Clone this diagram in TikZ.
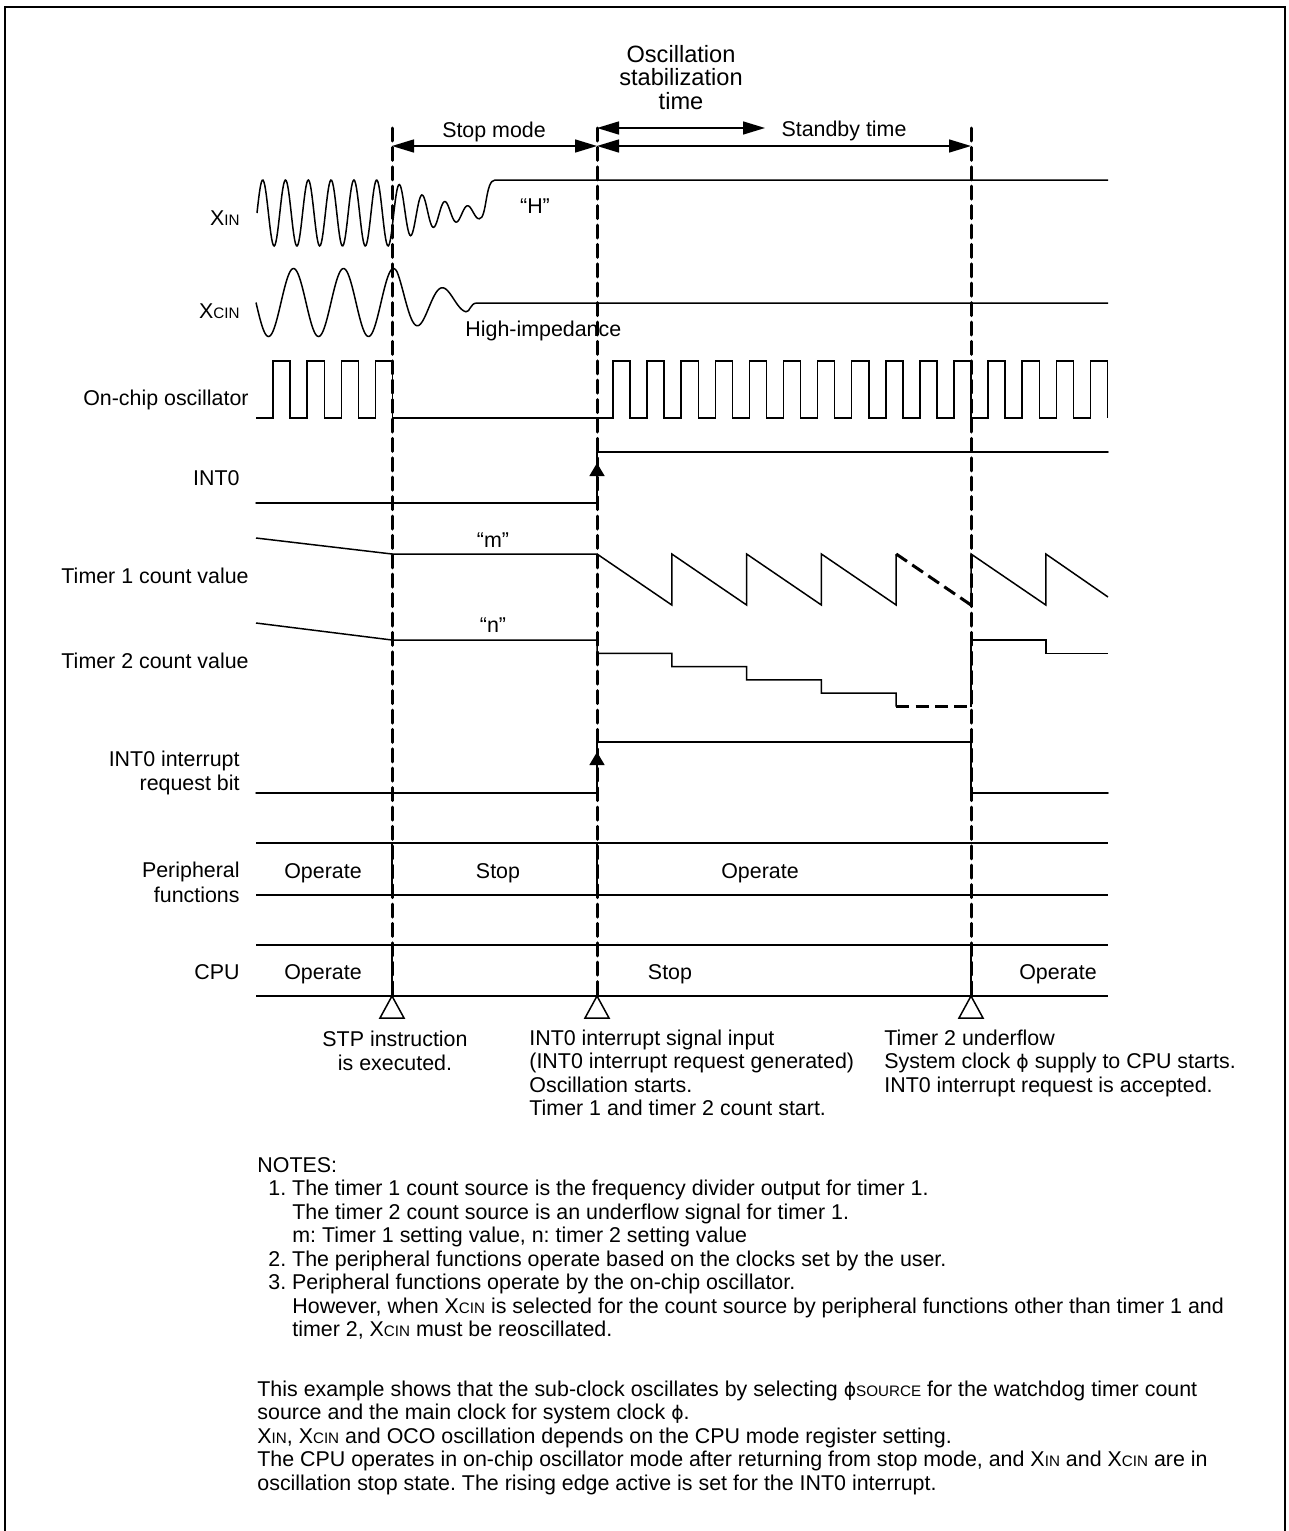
\documentclass[tikz,border=0pt]{standalone}
\usepackage{xcolor}
\usepackage{tikz, tkz-euclide}
\usetikzlibrary{calc,arrows.meta}
\usepackage{amsmath, amsfonts, amssymb}
\usepackage{fontspec}
\setmainfont{Liberation Sans}
\newfontfamily\phifont{DejaVu Sans}
\newcommand{\lowcap}[1]{{\fontsize{7.6}{8}\selectfont #1}}
\newcommand{\phisym}{{\phifont\fontsize{9.4}{10}\selectfont ϕ}}
\frenchspacing

\begin{document}
\begin{tikzpicture}[x=0.5pt,y=-0.5pt,
    font=\fontsize{10.7}{12}\selectfont,
    sigline/.style={line width=0.75pt},
    guide/.style={line width=1.5pt, dash pattern=on 6.5pt off 3.2pt},
    dimarrow/.style={line width=0.75pt,
      {Triangle[length=11pt,width=6.5pt]}-{Triangle[length=11pt,width=6.5pt]}},
    uparrow/.style={line width=0.75pt, -{Triangle[length=6.5pt,width=7.5pt]}},
    lbl/.style={anchor=base east, inner sep=0pt},
    txt/.style={anchor=base west, inner sep=0pt},
    ctr/.style={anchor=base, inner sep=0pt}]
      \useasboundingbox (0,0) rectangle (1289,1531);%
      \def\varl{256} \def\varr{1108}%
      \def\vars{392} \def\vari{597} \def\varu{971}%

      % frame, open at the bottom
      \draw[line width=1pt] (5,1531) -- (5,7) -- (1285,7) -- (1285,1531);%

      \tkzDefPoint(\vars,128){S_t} \tkzDefPoint(\vars,996){S_b}%
      \tkzDefPoint(\vari,128){I_t} \tkzDefPoint(\vari,996){I_b}%
      \tkzDefPoint(\varu,128){U_t} \tkzDefPoint(\varu,996){U_b}%
      \tkzDefPoint(\vars,146){S_a} \tkzDefPoint(\vari,146){I_a}%
      \tkzDefPoint(\varu,146){U_a} \tkzDefPoint(765,128){O_e}%

      \tkzDrawSegments[guide](S_t,S_b I_t,I_b U_t,U_b)%
      \tkzDrawSegments[dimarrow](S_a,I_a I_a,U_a I_t,O_e)%

      \node[ctr] (stopm) at (494,137) {Stop mode};%
      \node[ctr] (stdby) at (844,136) {Standby time};%
      \foreach \w [count=\k] in {Oscillation, stabilization, time}%
        \node[ctr, font=\fontsize{11.8}{12}\selectfont] (osc\k) at (681,{38.5+23.5*\k}) {\w};%

      % XIN
      \draw[sigline] plot[domain=257:479.3, samples=260]
        (\x,{213-33*(\x<392 ? 1 : exp(-(\x-392)/50))*sin((\x-257)/22.8*360)})
        .. controls (487,219) and (485,180) .. (495,180) -- (\varr,180);%
      % XCIN
      \draw[sigline] plot[domain=256:466, samples=220]
        (\x,{302.5-34*(\x<397 ? 1 : exp(-(\x-397)/55))*sin(180+(\x-256)*7.2)})
        .. controls (470,312.5) and (470,303) .. (477,303) -- (\varr,303);%
      % on-chip oscillator
      \draw[sigline] (\varl,418) foreach \k in {0,...,3} {-- ({273+34.2*\k},418)
        -- ({273+34.2*\k},361) -- ({290.1+34.2*\k},361) -- ({290.1+34.2*\k},418)}
        -- (613,418) foreach \k in {0,...,14} {-- ({613+34.1*\k},418)
        -- ({613+34.1*\k},361) -- ({630.05+34.1*\k},361) -- ({630.05+34.1*\k},418)};%

      % INT0
      \tkzDefPoint(\varl,503){A_0} \tkzDefPoint(\vari,503){A_1}%
      \tkzDefPoint(\vari,463){A_2} \tkzDefPoint(\vari,452){A_3}%
      \tkzDefPoint(\varr,452){A_4}%
      \tkzDrawSegments[sigline](A_0,A_1 A_2,A_3 A_3,A_4)%
      \draw[uparrow] (A_1) -- (A_2);%

      % timer 1
      \draw[sigline] (\varl,538) -- (\vars,554) -- (\vari,554) foreach \k in {1,...,4}
        {-- ({\vari+74.8*\k},605) -- ({\vari+74.8*\k},554)};%
      \draw[guide] (896.2,554) -- (\varu,605);%
      \draw[sigline] (\varu,605) -- (\varu,554) -- (1045.8,605) -- (1045.8,554) -- (\varr,597);%

      % timer 2
      \draw[sigline] (\varl,623) -- (\vars,640) -- (\vari,640) -- (\vari,653.3)
        foreach \k in {1,...,4} {-- ({\vari+74.8*\k},{640+13.3*\k})
        -- ({\vari+74.8*\k},{653.3+13.3*\k})};%
      \draw[guide] (896.2,706.5) -- (\varu,706.5);%
      \draw[sigline] (\varu,706.5) -- (\varu,640) -- (1045.8,640) -- (1045.8,653.3) -- (\varr,653.3);%

      % INT0 interrupt request bit
      \tkzDefPoint(\varl,793){B_0} \tkzDefPoint(\vari,793){B_1}%
      \tkzDefPoint(\vari,752){B_2} \tkzDefPoint(\vari,742){B_3}%
      \tkzDefPoint(\varu,742){B_4} \tkzDefPoint(\varu,793){B_5}%
      \tkzDefPoint(\varr,793){B_6}%
      \tkzDrawSegments[sigline](B_0,B_1 B_2,B_3 B_3,B_4 B_4,B_5 B_5,B_6)%
      \draw[uparrow] (B_1) -- (B_2);%

      % peripheral functions and CPU rows
      \foreach \yy in {843,895,945,996} \draw[sigline] (\varl,\yy) -- (\varr,\yy);%
      \foreach \xx/\ya/\yb in {\vars/843/895, \vari/843/895, \vars/945/996, \varu/945/996}%
        \draw[sigline] (\xx,\ya) -- (\xx,\yb);%
      \foreach \xx in {\vars,\vari,\varu}%
        \draw[sigline] (\xx,996) -- ({\xx-12},1018) -- ({\xx+12},1018) -- cycle;%

      \node[ctr] (pf1) at (323,878) {Operate};%
      \node[ctr] (pf2) at (498,878) {Stop};%
      \node[ctr] (pf3) at (760,878) {Operate};%
      \node[ctr] (cp1) at (323,979) {Operate};%
      \node[ctr] (cp2) at (670,979) {Stop};%
      \node[ctr] (cp3) at (1058,979) {Operate};%

      % signal names
      \node[lbl] (xin) at (240,225) {X\lowcap{IN}};%
      \node[lbl] (xcin) at (240,318) {X\lowcap{CIN}};%
      \node[lbl] (oco) at (249,405) {On-chip oscillator};%
      \node[lbl] (int) at (240,485) {INT0};%
      \node[lbl] (tm1) at (249,583) {Timer 1 count value};%
      \node[lbl] (tm2) at (249,668) {Timer 2 count value};%
      \node[lbl] (irq1) at (240,766) {INT0 interrupt};%
      \node[lbl] (irq2) at (240,790) {request bit};%
      \node[lbl] (per1) at (240,877) {Peripheral};%
      \node[lbl] (per2) at (240,902) {functions};%
      \node[lbl] (cpu) at (240,979) {CPU};%

      \node[ctr] (hval) at (535,213) {“H”};%
      \node[ctr] (mval) at (493,547) {“m”};%
      \node[ctr] (nval) at (493,632) {“n”};%
      \node[txt] (hiz) at (465,336) {High-impedance};%

      % events
      \node[ctr] (stp1) at (395,1046) {STP instruction};%
      \node[ctr] (stp2) at (395,1070) {is executed.};%
      \foreach \w [count=\k] in {INT0 interrupt signal input,
          (INT0 interrupt request generated), Oscillation starts.,
          Timer 1 and timer 2 count start.}%
        \node[txt] (ev\k) at (529,{1021.5+23.5*\k}) {\w};%
      \foreach \w [count=\k] in {Timer 2 underflow,
          System clock \phisym{} supply to CPU starts.,
          INT0 interrupt request is accepted.}%
        \node[txt] (uf\k) at (884,{1021.5+23.5*\k}) {\w};%

      % notes
      \foreach \xx/\yy/\w [count=\k] in {257/1172/{NOTES:},
          268/1195.5/{1. The timer 1 count source is the frequency divider output for timer 1.},
          292/1219/{The timer 2 count source is an underflow signal for timer 1.},
          292/1242.5/{m: Timer 1 setting value, n: timer 2 setting value},
          268/1266/{2. The peripheral functions operate based on the clocks set by the user.},
          268/1289.5/{3. Peripheral functions operate by the on-chip oscillator.},
          292/1313/{However, when X\lowcap{CIN} is selected for the count source by peripheral functions other than timer 1 and},
          292/1336/{timer 2, X\lowcap{CIN} must be reoscillated.},
          257/1396/{This example shows that the sub-clock oscillates by selecting \phisym\lowcap{SOURCE} for the watchdog timer count},
          257/1419.5/{source and the main clock for system clock \phisym.},
          257/1443/{X\lowcap{IN}, X\lowcap{CIN} and OCO oscillation depends on the CPU mode register setting.},
          257/1466.5/{The CPU operates in on-chip oscillator mode after returning from stop mode, and X\lowcap{IN} and X\lowcap{CIN} are in},
          257/1490/{oscillation stop state. The rising edge active is set for the INT0 interrupt.}}%
        \node[txt] (note\k) at (\xx,\yy) {\w};%
    \end{tikzpicture}
\end{document}
